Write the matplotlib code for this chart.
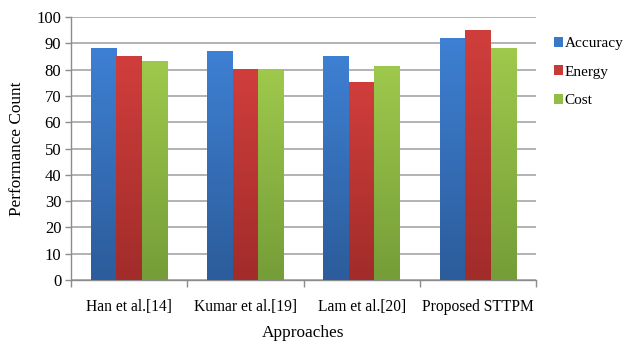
import numpy as np
import matplotlib
matplotlib.use("Agg")
import matplotlib.pyplot as plt
from matplotlib.colors import LinearSegmentedColormap
from matplotlib.patches import Patch

categories = ["Han et al.[14]", "Kumar et al.[19]", "Lam et al.[20]", "Proposed STTPM"]
series_names = ["Accuracy", "Energy", "Cost"]
accuracy = [88, 87, 85, 92]
energy = [85, 80, 75, 95]
cost = [83, 80, 81, 88]
y_ticks = list(range(0, 101, 10))

# (top colour, bottom colour) of each series' vertical gradient
shades = [("#3E80D3", "#2C5C9B"), ("#D03E3C", "#A12C2A"), ("#9EC94C", "#759D38")]
legend_colors = ["#3A78C8", "#C83A38", "#93BE46"]

plt.rcParams["font.family"] = ["Liberation Serif", "DejaVu Serif"]

fig = plt.figure(figsize=(6.27, 3.44), dpi=100)
ax = fig.add_axes([0.1132, 0.186, 0.7418, 0.7646])

x = np.arange(len(categories))
width = 0.22
offsets = [-width, 0, width]
grad = np.linspace(1, 0, 256).reshape(-1, 1)

for vals, off, (top, bot), name in zip([accuracy, energy, cost], offsets, shades, series_names):
    bars = ax.bar(x + off, vals, width, color="none", edgecolor="none", zorder=3, label=name)
    cmap = LinearSegmentedColormap.from_list(name, [bot, top])
    for b in bars:
        x0, w, h = b.get_x(), b.get_width(), b.get_height()
        ax.imshow(grad, extent=[x0, x0 + w, 0, h], aspect="auto", cmap=cmap,
                  origin="upper", zorder=3, interpolation="bilinear")

ax.set_xlim(-0.5, len(categories) - 0.5)
ax.set_ylim(0, 100)
ax.set_yticks(y_ticks)
ax.set_xticks(x)
ax.set_xticklabels(categories, fontsize=11.2)
ax.tick_params(axis="x", length=0, pad=14)
ax.set_xticks(np.arange(-0.5, len(categories)), minor=True)
ax.tick_params(axis="x", which="minor", length=5, color="#8C8C8C", width=1)
ax.tick_params(axis="y", labelsize=12, length=4, color="#8C8C8C", width=1, pad=3)
ax.yaxis.grid(True, color="#A6A6A6", linewidth=1.2, zorder=0)
ax.set_axisbelow(True)

for s in ["top", "right"]:
    ax.spines[s].set_visible(False)
for s in ["left", "bottom"]:
    ax.spines[s].set_color("#8C8C8C")
    ax.spines[s].set_linewidth(1)

ax.set_ylabel("Performance Count", fontsize=12.4, labelpad=8)
ax.set_xlabel("Approaches", fontsize=12.4, labelpad=7)

handles = [Patch(facecolor=c, edgecolor="none") for c in legend_colors]
ax.legend(handles, series_names, loc="upper left", bbox_to_anchor=(1.015, 0.965),
          frameon=False, fontsize=11, handlelength=0.6, handleheight=0.6,
          handletextpad=0.1, labelspacing=1.0, borderaxespad=0.3)

fig.savefig("out.png", dpi=100)
